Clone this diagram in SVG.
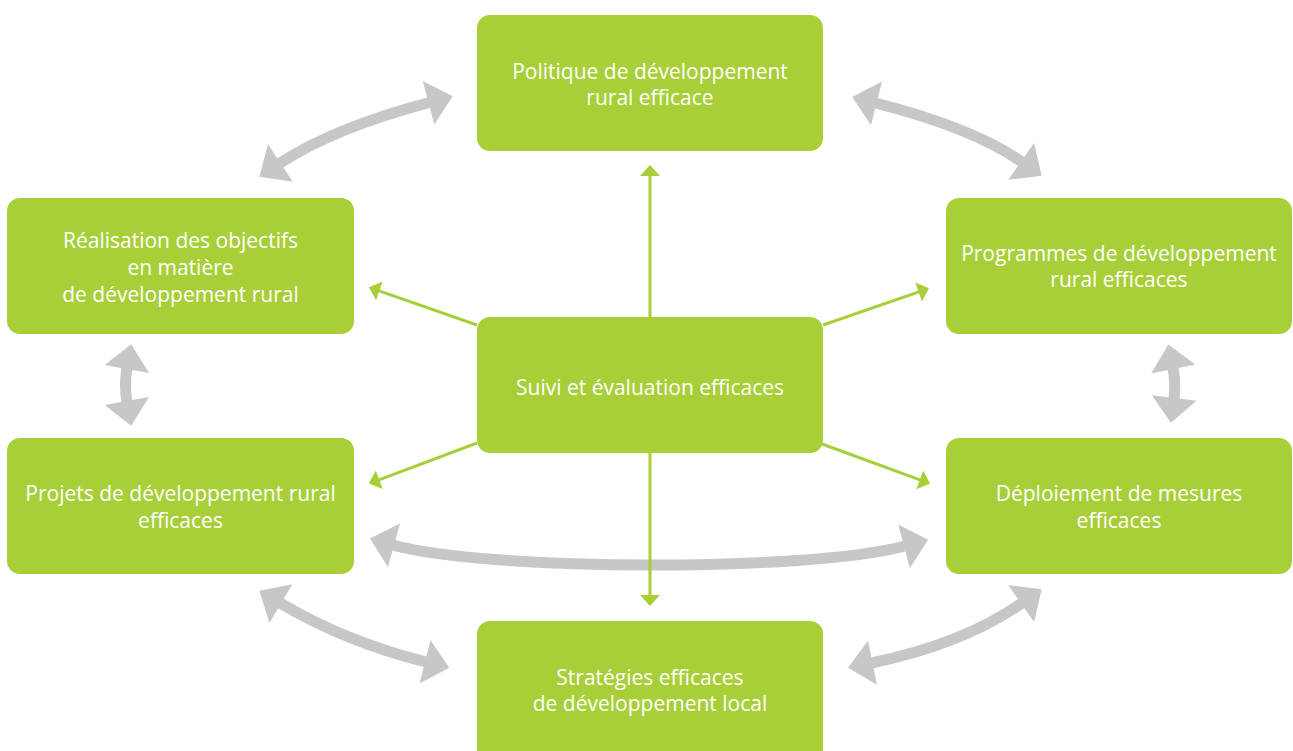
<svg xmlns="http://www.w3.org/2000/svg" width="1293" height="751" viewBox="0 0 1293 751">
  <style>
    .box { fill: #a8cf38; }
    .lbl { fill: #ffffff; font-family: "Open Sans", "Noto Sans", sans-serif; font-size: 21px; text-anchor: middle; }
    .gray { fill: none; stroke: #c6c7c8; stroke-width: 11; }
    .grn { fill: none; stroke: #a8cf38; stroke-width: 3; }
  </style>
  <defs>
    <marker id="gh" markerUnits="userSpaceOnUse" viewBox="0 0 25 45" markerWidth="25" markerHeight="45" refX="1" refY="22.5" orient="auto-start-reverse" overflow="visible">
      <path d="M0,0 L25,22.5 L0,45 z" fill="#c6c7c8"/>
    </marker>
    <marker id="ah" markerUnits="userSpaceOnUse" viewBox="0 0 11 20" markerWidth="11" markerHeight="20" refX="1" refY="10" orient="auto" overflow="visible">
      <path d="M0,0 L11,10 L0,20 z" fill="#a8cf38"/>
    </marker>
  </defs>

  <g id="connectors">
    <path class="gray" d="M279.5,163.5 Q333.4,128 429.5,102.5" marker-start="url(#gh)" marker-end="url(#gh)"/>
    <path class="gray" d="M875.5,103 Q973.5,128 1022,162" marker-start="url(#gh)" marker-end="url(#gh)"/>
    <path class="gray" d="M127,368 Q124,385 127,402" marker-start="url(#gh)" marker-end="url(#gh)"/>
    <path class="gray" d="M1173,368 Q1176,383 1174,399" marker-start="url(#gh)" marker-end="url(#gh)"/>
    <path class="gray" d="M393,545 C486,571 808,572 905,546" marker-start="url(#gh)" marker-end="url(#gh)"/>
    <path class="gray" d="M280,603 Q346,642 426,662" marker-start="url(#gh)" marker-end="url(#gh)"/>
    <path class="gray" d="M871.5,663 Q963,644.3 1022,603" marker-start="url(#gh)" marker-end="url(#gh)"/>

    <path class="grn" d="M650,330 L650,175" marker-end="url(#ah)"/>
    <path class="grn" d="M650,440 L650,596" marker-end="url(#ah)"/>
    <path class="grn" d="M477,325 L378.4,290.6" marker-end="url(#ah)"/>
    <path class="grn" d="M823,325 L919.6,291.6" marker-end="url(#ah)"/>
    <path class="grn" d="M477,443 L378.3,480.1" marker-end="url(#ah)"/>
    <path class="grn" d="M822,444 L920.7,480.2" marker-end="url(#ah)"/>
  </g>

  <g id="politique">
    <rect class="box" x="477" y="15" width="346" height="136" rx="13"/>
    <text class="lbl" x="650" y="79">Politique de développement</text>
    <text class="lbl" x="650" y="105">rural efficace</text>
  </g>
  <g id="realisation">
    <rect class="box" x="7" y="198" width="347" height="136" rx="13"/>
    <text class="lbl" x="180.5" y="248">Réalisation des objectifs</text>
    <text class="lbl" x="180.5" y="275">en matière</text>
    <text class="lbl" x="180.5" y="302">de développement rural</text>
  </g>
  <g id="programmes">
    <rect class="box" x="946" y="198" width="346" height="136" rx="13"/>
    <text class="lbl" x="1119" y="261">Programmes de développement</text>
    <text class="lbl" x="1119" y="287">rural efficaces</text>
  </g>
  <g id="suivi">
    <rect class="box" x="477" y="317" width="346" height="136" rx="13"/>
    <text class="lbl" x="650" y="395">Suivi et évaluation efficaces</text>
  </g>
  <g id="projets">
    <rect class="box" x="7" y="438" width="347" height="136" rx="13"/>
    <text class="lbl" x="180.5" y="501">Projets de développement rural</text>
    <text class="lbl" x="180.5" y="528">efficaces</text>
  </g>
  <g id="deploiement">
    <rect class="box" x="946" y="438" width="346" height="136" rx="13"/>
    <text class="lbl" x="1119" y="501">Déploiement de mesures</text>
    <text class="lbl" x="1119" y="528">efficaces</text>
  </g>
  <g id="strategies">
    <rect class="box" x="477" y="621" width="346" height="145" rx="13"/>
    <text class="lbl" x="650" y="685">Stratégies efficaces</text>
    <text class="lbl" x="650" y="711">de développement local</text>
  </g>
</svg>
